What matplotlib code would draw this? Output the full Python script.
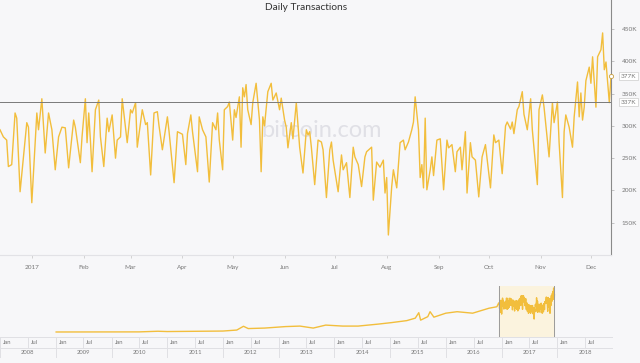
import matplotlib
matplotlib.use("Agg")
import matplotlib.pyplot as plt
import matplotlib.dates as mdates
import matplotlib.transforms as mtransforms
import pandas as pd

# ---------------- data ----------------
# main series: day offset from 2017-01-01, daily transactions (thousands)
main_days = [-19, -17, -15, -14, -12, -10, -9, -7, -3, -2, 0, 3, 4, 6, 8, 10, 12, 14, 16, 18,
             20, 22, 25, 26, 29, 30, 32, 33, 34, 35, 36, 38, 40, 41, 43, 45, 46, 48, 50, 51,
             53, 54, 57, 59, 60, 62, 63, 66, 68, 69, 71, 73, 75, 76, 78, 81, 82, 85, 87, 90,
             92, 93, 95, 96, 99, 100, 102, 104, 106, 108, 110, 111, 112, 114, 115, 117, 118, 120, 121, 122,
             124, 125, 126, 127, 128, 129, 131, 132, 134, 136, 137, 138, 139, 141, 143, 144, 146, 148, 149, 151,
             152, 153, 155, 156, 158, 160, 162, 164, 165, 166, 167, 169, 171, 173, 174, 176, 178, 179, 180, 183,
             185, 186, 188, 190, 192, 193, 195, 197, 199, 200, 203, 204, 206, 208, 210, 211, 212, 213, 215, 216,
             218, 220, 222, 223, 225, 227, 228, 229, 231, 232, 233, 234, 235, 236, 238, 239, 240, 242, 244, 246,
             248, 249, 251, 253, 254, 256, 257, 259, 260, 262, 263, 265, 267, 269, 271, 274, 276, 277, 279, 281,
             283, 284, 286, 287, 288, 290, 291, 293, 294, 296, 298, 299, 302, 303, 305, 306, 308, 309, 311, 312,
             314, 315, 317, 318, 319, 321, 323, 324, 326, 327, 328, 329, 330, 331, 333, 334, 335, 337, 338, 340,
             341, 342, 343, 345, 346]
main_vals = [294, 283, 278, 237, 240, 320, 312, 198, 305, 298, 181, 320, 294, 342, 258, 320, 294, 232, 283, 298,
             297, 235, 309, 298, 243, 283, 342, 274, 320, 278, 229, 325, 340, 283, 237, 312, 291, 317, 250, 278,
             283, 342, 274, 325, 320, 336, 267, 325, 302, 305, 224, 320, 322, 300, 263, 314, 291, 212, 291, 287,
             240, 288, 317, 291, 229, 314, 294, 283, 213, 305, 294, 320, 278, 232, 325, 330, 337, 278, 325, 313,
             345, 267, 359, 345, 364, 325, 302, 336, 366, 309, 229, 314, 300, 353, 366, 340, 351, 325, 343, 309,
             298, 266, 305, 280, 336, 267, 227, 294, 286, 291, 267, 209, 278, 275, 263, 189, 263, 275, 247, 198,
             255, 232, 243, 189, 267, 252, 240, 206, 252, 260, 267, 185, 244, 236, 247, 196, 220, 131, 206, 232,
             204, 274, 278, 263, 275, 294, 306, 345, 294, 220, 240, 204, 312, 201, 232, 252, 223, 278, 280, 201,
             278, 266, 271, 229, 260, 267, 232, 291, 196, 274, 252, 247, 190, 252, 271, 204, 286, 274, 278, 226,
             300, 306, 295, 306, 288, 325, 330, 353, 318, 294, 342, 294, 209, 325, 348, 329, 278, 252, 336, 305,
             337, 274, 189, 291, 317, 298, 267, 314, 368, 314, 351, 309, 329, 370, 391, 366, 407, 329, 407, 418,
             444, 387, 399, 336, 377]

# navigator (long history) before the selected window, thousands
nav_dates = ['2009-01-03', '2009-07-01', '2010-01-01', '2010-07-01', '2010-11-01', '2011-01-01',
             '2011-07-01', '2012-01-01', '2012-04-01', '2012-05-15', '2012-06-15', '2012-10-01',
             '2013-02-15', '2013-05-20', '2013-08-15', '2013-11-05', '2014-02-25', '2014-06-05',
             '2014-10-15', '2015-01-10', '2015-04-20', '2015-06-15', '2015-07-08', '2015-07-20',
             '2015-09-05', '2015-09-20', '2015-10-15', '2016-01-01', '2016-03-15', '2016-06-25',
             '2016-10-10', '2016-12-01']
nav_vals = [0.5, 0.7, 0.8, 1.5, 8, 5, 7, 10, 20, 58, 35, 40, 55, 60, 40, 70, 60, 60, 80, 95,
            115, 140, 195, 120, 155, 205, 150, 190, 205, 190, 240, 255]

y_ticks = [150, 200, 250, 300, 350, 400, 450]
month_labels = ['2017', 'Feb', 'Mar', 'Apr', 'May', 'Jun', 'Jul', 'Aug', 'Sep', 'Oct', 'Nov', 'Dec']
nav_years = list(range(2008, 2019))
cross_value = 337
title = 'Daily Transactions'

# ---------------- styling ----------------
BG = '#f7f7f9'
LINE = '#F2BE3C'
W, H = 640, 363

plt.rcParams['font.family'] = ['Lato', 'DejaVu Sans']
fig = plt.figure(figsize=(W / 100, H / 100), dpi=100, facecolor=BG)

base = mdates.date2num(pd.Timestamp('2017-01-01'))
mx = [base + d for d in main_days]
mv = [v * 1000 for v in main_vals]

# main axes: x 0..611 px, y 0..255 px
ax = fig.add_axes([0, (H - 255) / H, 611 / W, 255 / H], facecolor=BG)
ax.plot(mx, mv, color=LINE, lw=1.0, solid_joinstyle='round')
ax.set_xlim(base - 19, base + 346)
ax.set_ylim(100000, 495000)

for s in ['top', 'left']:
    ax.spines[s].set_visible(False)
ax.spines['right'].set_color('#8a8a8a')
ax.spines['right'].set_linewidth(0.8)
ax.spines['bottom'].set_color('#e2e2e6')
ax.spines['bottom'].set_linewidth(0.8)

ax.yaxis.tick_right()
ax.set_yticks([t * 1000 for t in y_ticks])
ax.set_yticklabels([f'{t}K' for t in y_ticks])
ax.tick_params(axis='y', direction='out', length=2.5, width=0.6, color='#bbbbbb',
               labelsize=4.6, labelcolor='#777777', pad=5)

month_pos = [mdates.date2num(pd.Timestamp(2017, m, 1)) for m in range(1, 13)]
ax.set_xticks(month_pos)
ax.set_xticklabels(month_labels)
ax.tick_params(axis='x', direction='out', length=2.5, width=0.6, color='#cccccc',
               labelsize=4.6, labelcolor='#777777', pad=5)

# watermark
ax.text(0.527, 0.49, 'bitcoin.com', transform=ax.transAxes, ha='center', va='center',
        fontsize=17, color='#e0e0e6', zorder=0)

# crosshair line and labels
ax.axhline(cross_value * 1000, color='#7a7a7a', lw=0.7, zorder=3)
trans = mtransforms.blended_transform_factory(ax.transAxes, ax.transData)
box = dict(boxstyle='square,pad=0.25', fc='white', ec='#cccccc', lw=0.5)
ax.text(1.016, cross_value * 1000, f'{cross_value}K', transform=trans, ha='left', va='center',
        fontsize=4.6, color='#777777', bbox=box, clip_on=False)
ax.text(1.016, mv[-1], f'{main_vals[-1]}K', transform=trans, ha='left', va='center',
        fontsize=4.6, color='#777777', bbox=box, clip_on=False)
ax.plot([mx[-1]], [mv[-1]], 'o', ms=3, mfc='white', mec='#c9a040', mew=0.6, clip_on=False, zorder=5)

fig.text(306 / W, 1 - 7 / H, title, ha='center', va='center', fontsize=7.3, color='#333333')

# ---------------- navigator ----------------
nx0 = mdates.date2num(pd.Timestamp('2008-01-01'))
nx1 = mdates.date2num(pd.Timestamp('2019-01-01'))
nav_w = 613 / W
nav = fig.add_axes([0, (H - 337) / H, nav_w, 51 / H], facecolor=BG)
nav_x = [mdates.date2num(pd.Timestamp(d)) for d in nav_dates] + mx
nav_y = nav_vals + main_vals
nav.plot(nav_x, nav_y, color=LINE, lw=1.0)
nav.set_xlim(nx0, nx1)
nav.set_ylim(-50, 464)
nav.axvspan(mx[0], mx[-1], color='#fbf3de', zorder=0)
nav.axvline(mx[0], color='#9a9a9a', lw=0.7)
nav.axvline(mx[-1], color='#9a9a9a', lw=0.7)
nav.axis('off')

# navigator label grid
lab = fig.add_axes([0, (H - 358) / H, nav_w, 21 / H], facecolor=BG)
lab.set_xlim(nx0, nx1)
lab.set_ylim(0, 2)
lab.axis('off')
gc = '#e0e0e4'
lab.axhline(2, color=gc, lw=0.7)
lab.axhline(1, color=gc, lw=0.7)
day_px = (nx1 - nx0) / 613.0
for yr in nav_years:
    jan = mdates.date2num(pd.Timestamp(yr, 1, 1))
    jul = mdates.date2num(pd.Timestamp(yr, 7, 1))
    nxt = mdates.date2num(pd.Timestamp(yr + 1, 1, 1))
    lab.plot([jan, jan], [0, 2], color=gc, lw=0.7)
    lab.plot([jul, jul], [1, 2], color=gc, lw=0.7)
    lab.text(jan + 3 * day_px, 1.5, 'Jan', ha='left', va='center', fontsize=4.2, color='#777777')
    lab.text(jul + 3 * day_px, 1.5, 'Jul', ha='left', va='center', fontsize=4.2, color='#777777')
    lab.text((jan + nxt) / 2, 0.5, str(yr), ha='center', va='center', fontsize=4.2, color='#777777')
lab.plot([nx1, nx1], [0, 2], color=gc, lw=0.7)

fig.savefig('out.png', dpi=100, facecolor=BG)
